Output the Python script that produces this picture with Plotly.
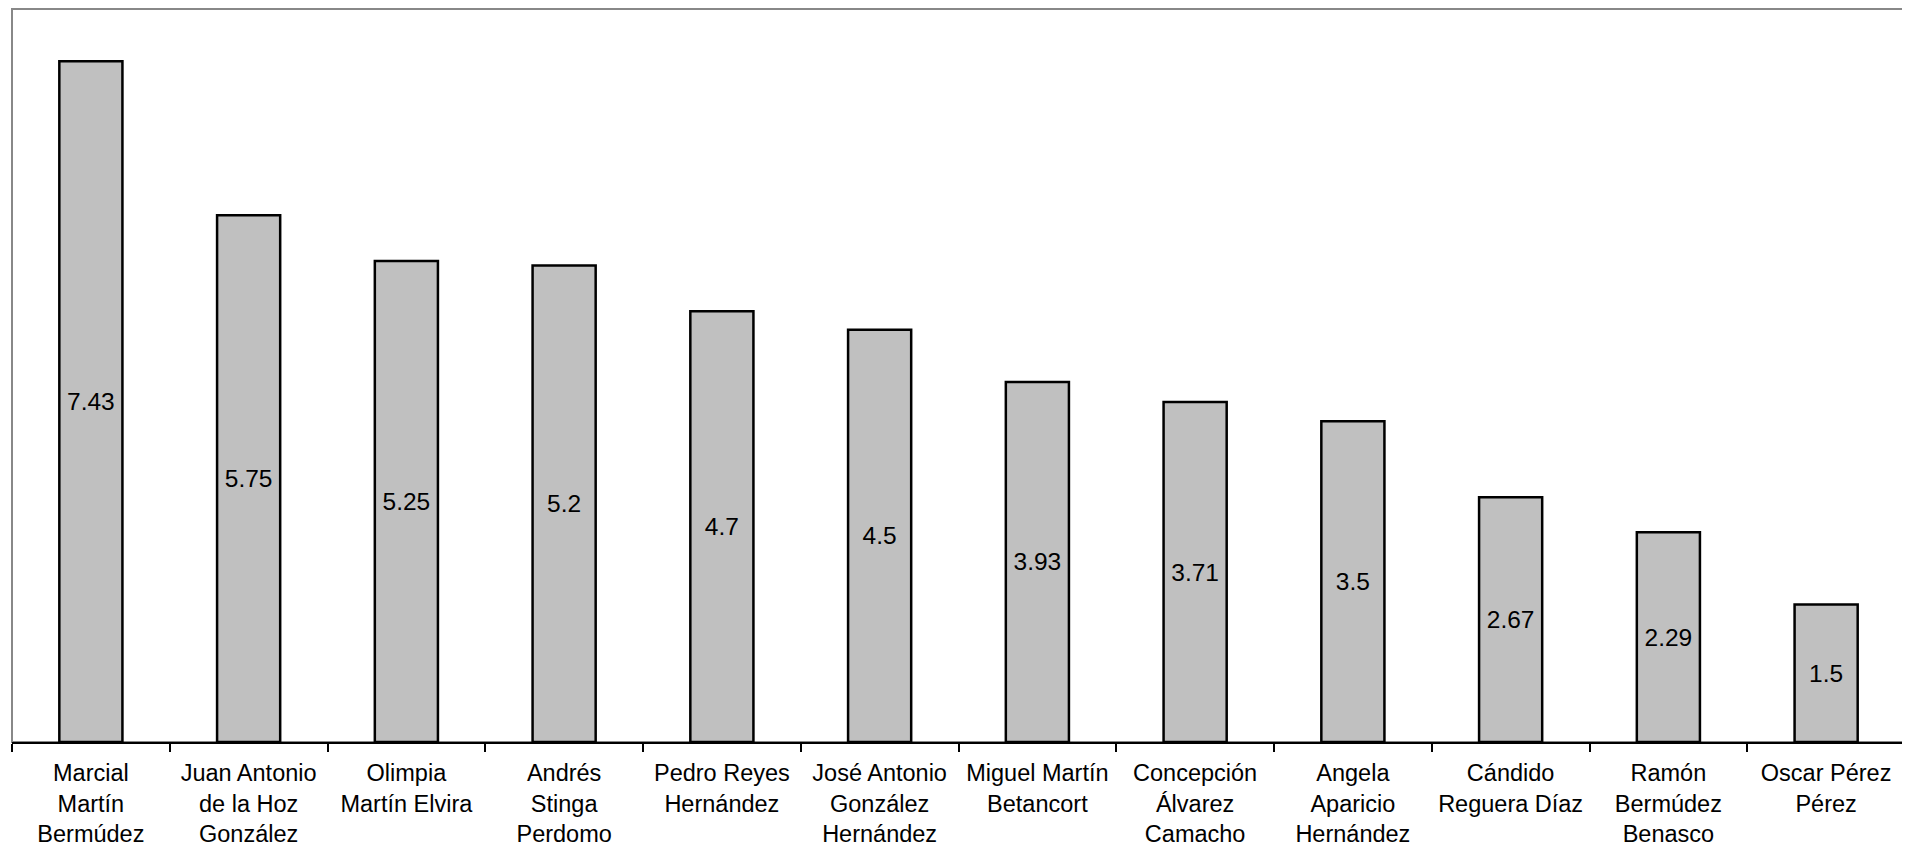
import plotly.graph_objects as go

# Data
names = [
    'Marcial<br>Martín<br>Bermúdez',
    'Juan Antonio<br>de la Hoz<br>González',
    'Olimpia<br>Martín Elvira',
    'Andrés<br>Stinga<br>Perdomo',
    'Pedro Reyes<br>Hernández',
    'José Antonio<br>González<br>Hernández',
    'Miguel Martín<br>Betancort',
    'Concepción<br>Álvarez<br>Camacho',
    'Angela<br>Aparicio<br>Hernández',
    'Cándido<br>Reguera Díaz',
    'Ramón<br>Bermúdez<br>Benasco',
    'Oscar Pérez<br>Pérez',
]
values = [7.43, 5.75, 5.25, 5.2, 4.7, 4.5, 3.93, 3.71, 3.5, 2.67, 2.29, 1.5]

fig = go.Figure()
fig.add_trace(go.Bar(
    x=names, y=values,
    width=0.4,
    marker=dict(color='#C0C0C0', line=dict(color='black', width=2.5)),
    text=[str(v) for v in values],
    textposition='inside', insidetextanchor='middle', textangle=0,
    textfont=dict(size=24.5, color='black'),
    constraintext='none',
    hoverinfo='x+y',
))

# gray frame around the plot area
fig.add_shape(type='rect', xref='paper', yref='paper', x0=0, y0=0, x1=1, y1=1,
              line=dict(color='#888888', width=2), layer='below')

fig.update_xaxes(
    range=[-0.5, 11.5], showline=True, linecolor='black', linewidth=2,
    ticks='outside', tickson='boundaries', ticklen=8, tickwidth=2, tickcolor='black',
    tickfont=dict(size=23.5, color='black'), ticklabelstandoff=9,
    showgrid=False, zeroline=False, automargin=False,
)
fig.update_yaxes(range=[0, 8], visible=False, showgrid=False, zeroline=False,
                 automargin=False)

# page body adds an 8px margin, so the figure is sized to fit the window
fig.update_layout(
    width=1900, height=840,
    margin=dict(l=4, r=3, t=1, b=106, autoexpand=False),
    plot_bgcolor='white', paper_bgcolor='white',
    font=dict(family='Liberation Sans, Arial, sans-serif', color='black'),
    uniformtext=dict(minsize=24.5, mode='show'),
    showlegend=False,
)

fig.write_html("out.html")
